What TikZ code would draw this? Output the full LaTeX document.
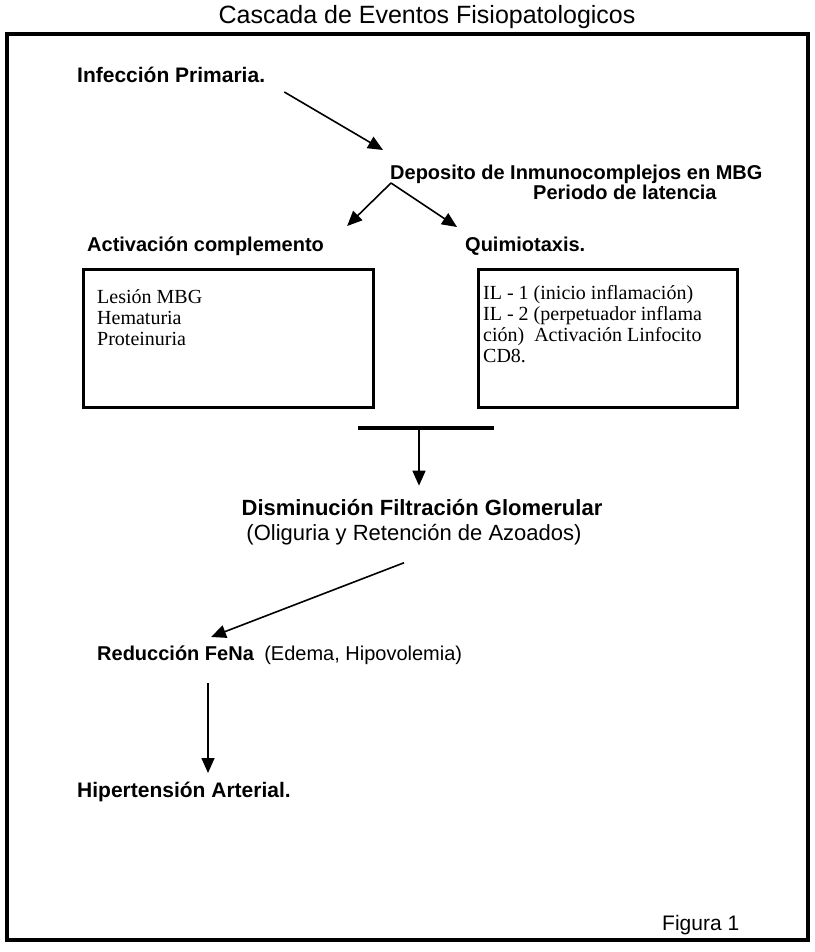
\documentclass[tikz,border=0pt]{standalone}
\usepackage{fontspec}
\setmainfont{Liberation Sans}
\newfontfamily\cajafont{Liberation Serif}
\usetikzlibrary{arrows.meta}
\tikzset{
  titulo/.style={font=\fontsize{25}{30}\selectfont, inner sep=0pt, anchor=base},
  negrita/.style={font=\fontsize{20}{24}\selectfont\bfseries, inner sep=0pt, anchor=base west},
  normal/.style={font=\fontsize{20}{24}\selectfont, inner sep=0pt, anchor=base west},
  caja/.style={rectangle, draw, line width=3pt, anchor=north west, inner sep=0pt},
  cajatexto/.style={font=\cajafont\fontsize{20}{21}\selectfont, align=left, inner sep=0pt, anchor=north west},
  flecha/.style={line width=1.6pt, -{Triangle[length=15pt,width=13pt]}},
}
\begin{document}
\begin{tikzpicture}[x=1pt,y=-1pt]
        \useasboundingbox (0,0) rectangle (814,952);
        \node at (427,24) [titulo] (tit) {Cascada de Eventos Fisiopatologicos};
        \draw [line width=4pt] (7,34) rectangle (808,940);

        \node at (77,83) [negrita,font=\fontsize{21}{24}\selectfont\bfseries] (infeccion) {Infección Primaria.};
        \node at (390,179) [negrita] (deposito) {Deposito de Inmunocomplejos en MBG};
        \node at (533,199) [negrita] (latencia) {Periodo de latencia};

        \node at (87,251) [negrita] (activ) {Activación complemento};
        \node at (465,251) [negrita] (quimio) {Quimiotaxis.};

        \node at (82,268) [caja,minimum width=290pt,minimum height=138pt] (lbox) {};
        \node at (477,268) [caja,minimum width=259pt,minimum height=138pt] (rbox) {};
        \node at ([shift={(15,21)}]lbox.north west) [cajatexto] (ltexto) {Lesión MBG\\Hematuria\\Proteinuria};
        \node at ([shift={(6,17)}]rbox.north west) [cajatexto] (rtexto) {IL - 1 (inicio inflamación)\\IL - 2 (perpetuador inflama\\ción)\ \ Activación Linfocito\\CD8.};

        \coordinate (barL) at (358,428);
        \coordinate (barR) at (494,428);
        \coordinate (barC) at (419,428);
        \draw [line width=4pt] (barL) -- (barR);

        \node at (422,515) [negrita,anchor=base,font=\fontsize{22}{26}\selectfont\bfseries] (dism) {Disminución Filtración Glomerular};
        \node at (414,540) [normal,anchor=base,font=\fontsize{22}{26}\selectfont] (oligo) {(Oliguria y Retención de Azoados)};

        \node at (97,660) [negrita] (fena) {Reducción FeNa};
        \node at ([shift={(10,0)}]fena.base east) [normal] (edema) {(Edema, Hipovolemia)};
        \node at (77,797) [negrita,font=\fontsize{21}{24}\selectfont\bfseries] (hiper) {Hipertensión Arterial.};
        \node at (662,930) [normal,font=\fontsize{21}{24}\selectfont] (fig) {Figura 1};

        \draw [flecha] ([shift={(19,9)}]infeccion.base east) -- ([shift={(-7,-29)}]deposito.base west);
        \draw [flecha] ([shift={(1,4)}]deposito.base west) -- ([shift={(23,-25)}]activ.base east);
        \draw [flecha] ([shift={(1,4)}]deposito.base west) -- ([shift={(-8,-24)}]quimio.base west);
        \draw [flecha,shorten >=13pt] (barC) -- (barC |- dism.north);
        \draw [flecha] ([shift={(-10,18)}]oligo.south) -- ([shift={(114,-23)}]fena.base west);
        \draw [flecha] ([shift={(111,23)}]fena.base west) -- ([shift={(131,-24)}]hiper.base west);
    \end{tikzpicture}
\end{document}
